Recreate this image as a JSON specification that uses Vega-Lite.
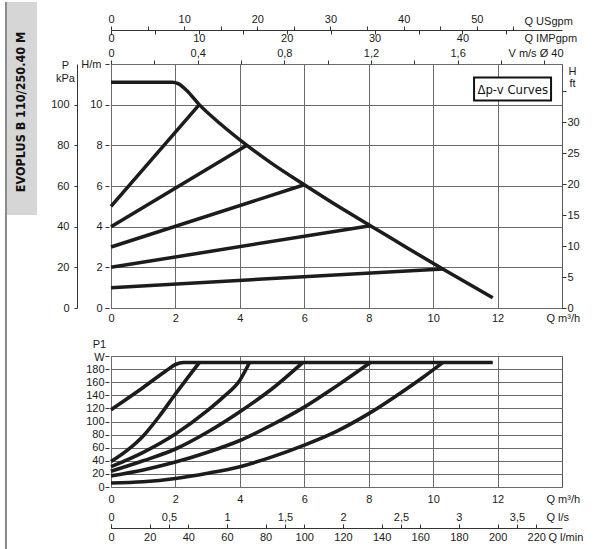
{
  "$schema": "https://vega.github.io/schema/vega-lite/v6.json",
  "padding": {"left": 4, "top": 0, "right": 0, "bottom": 0},
  "bounds": "flush",
  "spacing": 48,
  "config": {
    "axis": {
      "labelFont": "Liberation Sans", "labelFontSize": 11, "labelColor": "#1a1a1a",
      "titleFont": "Liberation Sans", "titleFontSize": 11, "titleFontWeight": "normal", "titleColor": "#1a1a1a",
      "tickColor": "#333", "domainColor": "#333", "gridColor": "#6a6a6a", "gridWidth": 1,
      "labelFlush": false, "labelOverlap": false, "labelBound": false, "tickSize": 4, "titlePadding": 0
    },
    "view": {"stroke": "#555", "strokeWidth": 1}
  },
  "datasets": {
    "head": [
      {"curve": "max", "q": 0, "h": 11.1}, {"curve": "max", "q": 1.9, "h": 11.1}, {"curve": "max", "q": 2.1, "h": 11.02},
      {"curve": "max", "q": 2.35, "h": 10.7}, {"curve": "max", "q": 2.74, "h": 10.0}, {"curve": "max", "q": 3.4, "h": 9.05},
      {"curve": "max", "q": 4.22, "h": 8.0}, {"curve": "max", "q": 5.0, "h": 7.1}, {"curve": "max", "q": 6.0, "h": 6.06},
      {"curve": "max", "q": 7.0, "h": 5.05}, {"curve": "max", "q": 8.05, "h": 4.05}, {"curve": "max", "q": 9.2, "h": 2.95},
      {"curve": "max", "q": 10.3, "h": 1.92}, {"curve": "max", "q": 11.85, "h": 0.5},
      {"curve": "d1", "q": 0, "h": 5.0}, {"curve": "d1", "q": 2.74, "h": 10.0},
      {"curve": "d2", "q": 0, "h": 4.0}, {"curve": "d2", "q": 4.22, "h": 8.0},
      {"curve": "d3", "q": 0, "h": 3.0}, {"curve": "d3", "q": 6.0, "h": 6.06},
      {"curve": "d4", "q": 0, "h": 2.0}, {"curve": "d4", "q": 8.05, "h": 4.05},
      {"curve": "d5", "q": 0, "h": 1.0}, {"curve": "d5", "q": 10.3, "h": 1.92}
    ],
    "power": [
      {"curve": "max", "q": 0, "w": 118}, {"curve": "max", "q": 1.0, "w": 152}, {"curve": "max", "q": 1.7, "w": 177},
      {"curve": "max", "q": 2.0, "w": 187}, {"curve": "max", "q": 2.25, "w": 190}, {"curve": "max", "q": 11.85, "w": 190},
      {"curve": "a", "q": 0, "w": 39}, {"curve": "a", "q": 0.5, "w": 56}, {"curve": "a", "q": 1.0, "w": 78},
      {"curve": "a", "q": 1.5, "w": 108}, {"curve": "a", "q": 2.0, "w": 142}, {"curve": "a", "q": 2.4, "w": 168},
      {"curve": "a", "q": 2.74, "w": 190},
      {"curve": "b", "q": 0, "w": 31}, {"curve": "b", "q": 1, "w": 53}, {"curve": "b", "q": 2, "w": 81},
      {"curve": "b", "q": 3, "w": 117}, {"curve": "b", "q": 3.5, "w": 138}, {"curve": "b", "q": 4, "w": 163},
      {"curve": "b", "q": 4.3, "w": 190},
      {"curve": "c", "q": 0, "w": 24}, {"curve": "c", "q": 1, "w": 40}, {"curve": "c", "q": 2, "w": 58},
      {"curve": "c", "q": 3, "w": 84}, {"curve": "c", "q": 4, "w": 115}, {"curve": "c", "q": 5, "w": 150},
      {"curve": "c", "q": 5.95, "w": 190},
      {"curve": "d", "q": 0, "w": 17}, {"curve": "d", "q": 1, "w": 26}, {"curve": "d", "q": 2, "w": 38},
      {"curve": "d", "q": 3, "w": 53}, {"curve": "d", "q": 4, "w": 71}, {"curve": "d", "q": 5, "w": 95},
      {"curve": "d", "q": 6, "w": 122}, {"curve": "d", "q": 7, "w": 154}, {"curve": "d", "q": 8.05, "w": 190},
      {"curve": "e", "q": 0, "w": 6}, {"curve": "e", "q": 1, "w": 8}, {"curve": "e", "q": 2, "w": 13},
      {"curve": "e", "q": 3, "w": 21}, {"curve": "e", "q": 4, "w": 31}, {"curve": "e", "q": 5, "w": 46},
      {"curve": "e", "q": 6, "w": 64}, {"curve": "e", "q": 7, "w": 85}, {"curve": "e", "q": 8, "w": 112},
      {"curve": "e", "q": 9, "w": 144}, {"curve": "e", "q": 9.7, "w": 168}, {"curve": "e", "q": 10.3, "w": 190}
    ]
  },
  "vconcat": [
    {
      "width": 451,
      "height": 244,
      "resolve": {"axis": {"x": "independent", "y": "independent"}},
      "layer": [
        {
          "data": {"name": "head"},
          "mark": {"type": "line", "interpolate": "monotone", "strokeWidth": 3.5, "color": "#1c1c1c", "strokeJoin": "round"},
          "encoding": {
            "x": {"field": "q", "type": "quantitative", "scale": {"domain": [0, 14], "nice": false, "zero": false},
              "axis": {"values": [0, 2, 4, 6, 8, 10, 12], "grid": true, "domain": false, "ticks": false, "labelPadding": 4,
                "title": "Q m³/h", "titleX": 435, "titleY": 4, "titleAlign": "left", "titleBaseline": "top"}},
            "y": {"field": "h", "type": "quantitative", "scale": {"domain": [0, 12], "nice": false},
              "axis": {"values": [0, 2, 4, 6, 8, 10, 12], "labelExpr": "datum.value == 12 ? '' : datum.label", "grid": true, "domain": false,
                "offset": 2, "tickSize": 4, "labelPadding": 3,
                "title": "H/m", "titleAngle": 0, "titleAlign": "right", "titleX": -8, "titleY": 0, "titleBaseline": "middle"}},
            "detail": {"field": "curve"}
          }
        },
        {
          "data": {"values": [{"q0": -3.29, "q1": -2.297, "h0": 15.05, "h1": 4.57}]},
          "mark": {"type": "rect", "color": "#d6d6d6"},
          "encoding": {
            "x": {"field": "q0", "type": "quantitative", "axis": null},
            "x2": {"field": "q1"},
            "y": {"field": "h0", "type": "quantitative", "axis": null},
            "y2": {"field": "h1"}
          }
        },
        {
          "data": {"values": [{"q0": -3.26, "h0": 15.05, "h1": -11.95}]},
          "mark": {"type": "rule", "color": "#8a8a8a", "strokeWidth": 2},
          "encoding": {
            "x": {"field": "q0", "type": "quantitative", "axis": null},
            "y": {"field": "h0", "type": "quantitative", "axis": null},
            "y2": {"field": "h1"}
          }
        },
        {
          "data": {"values": [{"q": -2.79, "h": 9.64, "label": "EVOPLUS B 110/250.40 M"}]},
          "mark": {"type": "text", "angle": 270, "font": "DejaVu Sans Condensed, DejaVu Sans, sans-serif", "fontSize": 12.5, "fontWeight": "bold", "color": "#111", "align": "center", "baseline": "middle"},
          "encoding": {
            "x": {"field": "q", "type": "quantitative", "axis": null},
            "y": {"field": "h", "type": "quantitative", "axis": null},
            "text": {"field": "label"}
          }
        },
        {
          "data": {"values": [{"q0": 11.27, "q1": 13.66, "h0": 10.2, "h1": 11.33}]},
          "mark": {"type": "rect", "fill": "white", "stroke": "#111", "strokeWidth": 2},
          "encoding": {
            "x": {"field": "q0", "type": "quantitative", "axis": null},
            "x2": {"field": "q1"},
            "y": {"field": "h0", "type": "quantitative", "axis": null},
            "y2": {"field": "h1"}
          }
        },
        {
          "data": {"values": [{"q": 12.47, "h": 10.74, "label": "Δp-v Curves"}]},
          "mark": {"type": "text", "font": "DejaVu Sans Condensed, DejaVu Sans, sans-serif", "fontSize": 13, "color": "#111", "align": "center", "baseline": "middle"},
          "encoding": {
            "x": {"field": "q", "type": "quantitative", "axis": null},
            "y": {"field": "h", "type": "quantitative", "axis": null},
            "text": {"field": "label"}
          }
        },
        {
          "data": {"values": [{"q": 0, "h": 0}]},
          "mark": {"type": "point", "opacity": 0},
          "encoding": {
            "x": {"field": "q", "type": "quantitative", "axis": null},
            "y": {"field": "h", "type": "quantitative",
              "axis": {"orient": "left", "values": [0, 2, 4, 6, 8, 10], "labelExpr": "format(round(datum.value * 10), 'd')",
                "offset": 34, "domain": true, "tickSize": 3, "labelPadding": 5, "grid": false,
                "title": ["P", "kPa"], "titleAngle": 0, "titleAlign": "center", "titleX": -12, "titleY": -5, "titleBaseline": "top", "titleLineHeight": 13}}
          }
        },
        {
          "data": {"values": [{"q": 0, "h": 0}]},
          "mark": {"type": "point", "opacity": 0},
          "encoding": {
            "x": {"field": "q", "type": "quantitative", "axis": null},
            "y": {"field": "h", "type": "quantitative",
              "axis": {"orient": "right", "values": [0, 1.524, 3.048, 4.572, 6.096, 7.62, 9.144, 10.668],
                "labelExpr": "round(datum.value / 0.3048) == 35 ? '' : format(round(datum.value / 0.3048), 'd')",
                "domain": false, "tickSize": 4, "labelPadding": 1, "grid": false,
                "title": ["H", "ft"], "titleAngle": 0, "titleAlign": "center", "titleX": 10, "titleY": 1, "titleBaseline": "top", "titleLineHeight": 12}}
          }
        },
        {
          "data": {"values": [{"q": 0, "h": 0}]},
          "mark": {"type": "point", "opacity": 0},
          "encoding": {
            "y": {"field": "h", "type": "quantitative", "axis": null},
            "x": {"field": "q", "type": "quantitative",
              "axis": {"orient": "top", "offset": 34,
                "values": [0, 1.1356, 2.2712, 3.4068, 4.5424, 5.678, 6.8136, 7.9492, 9.0848, 10.2204, 11.356, 12.4916],
                "labelExpr": "round(datum.value / 0.22712) % 10 == 0 ? format(round(datum.value / 0.22712), 'd') : ''",
                "domain": true, "tickSize": 4, "labelPadding": 2, "grid": false,
                "title": "Q USgpm", "titleX": 413, "titleY": -6, "titleAlign": "left", "titleBaseline": "alphabetic"}}
          }
        },
        {
          "data": {"values": [{"q": 0, "h": 0}]},
          "mark": {"type": "point", "opacity": 0},
          "encoding": {
            "y": {"field": "h", "type": "quantitative", "axis": null},
            "x": {"field": "q", "type": "quantitative",
              "axis": {"orient": "top", "offset": 34,
                "values": [0, 1.3638, 2.7277, 4.0915, 5.4554, 6.8192, 8.1831, 9.5469, 10.9108, 12.2746],
                "labelExpr": "round(datum.value / 0.27277) % 10 == 0 ? format(round(datum.value / 0.27277), 'd') : ''",
                "domain": false, "tickSize": -4, "labelPadding": 2, "labelBaseline": "top", "grid": false,
                "title": "Q IMPgpm", "titleX": 413, "titleY": 2, "titleAlign": "left", "titleBaseline": "top"}}
          }
        },
        {
          "data": {"values": [{"q": 0, "h": 0}]},
          "mark": {"type": "point", "opacity": 0},
          "encoding": {
            "y": {"field": "h", "type": "quantitative", "axis": null},
            "x": {"field": "q", "type": "quantitative",
              "axis": {"orient": "top", "offset": 0,
                "values": [0, 1.345, 2.69, 4.035, 5.38, 6.725, 8.07, 9.415, 10.76, 12.105, 13.45],
                "labelExpr": "round(datum.value / 0.6725) % 4 == 0 && datum.value < 11 ? replace(format(round(datum.value / 0.6725) / 10, '.1~f'), '.', ',') : ''",
                "domain": false, "tickSize": 4, "labelPadding": 2, "grid": false,
                "title": "V m/s Ø 40", "titleX": 397, "titleY": -8, "titleAlign": "left", "titleBaseline": "alphabetic"}}
          }
        }
      ]
    },
    {
      "width": 451,
      "height": 131,
      "resolve": {"axis": {"x": "independent", "y": "independent"}},
      "layer": [
        {
          "data": {"name": "power"},
          "mark": {"type": "line", "interpolate": "monotone", "strokeWidth": 3.6, "color": "#1c1c1c", "strokeJoin": "round"},
          "encoding": {
            "x": {"field": "q", "type": "quantitative", "scale": {"domain": [0, 14], "nice": false, "zero": false},
              "axis": {"values": [0, 2, 4, 6, 8, 10, 12], "grid": true, "domain": false, "ticks": false, "labelPadding": 6,
                "title": "Q m³/h", "titleX": 435, "titleY": 6, "titleAlign": "left", "titleBaseline": "top"}},
            "y": {"field": "w", "type": "quantitative", "scale": {"domain": [0, 200], "nice": false},
              "axis": {"values": [0, 20, 40, 60, 80, 100, 120, 140, 160, 180, 200], "labelExpr": "datum.value == 200 ? '' : datum.label",
                "grid": true, "domain": false, "offset": 2, "tickSize": 4, "labelPadding": 1,
                "title": ["P1", "W"], "titleAngle": 0, "titleAlign": "center", "titleX": -10, "titleY": -9, "titleBaseline": "alphabetic", "titleLineHeight": 13}},
            "detail": {"field": "curve"}
          }
        },
        {
          "data": {"values": [{"q": 0, "w": 0}]},
          "mark": {"type": "point", "opacity": 0},
          "encoding": {
            "y": {"field": "w", "type": "quantitative", "axis": null},
            "x": {"field": "q", "type": "quantitative",
              "axis": {"orient": "bottom", "offset": 41, "values": [0, 1.8, 3.6, 5.4, 7.2, 9.0, 10.8, 12.6],
                "labelExpr": "replace(format(datum.value / 3.6, '.2~f'), '.', ',')",
                "domain": false, "tickSize": -4, "labelPadding": -4, "labelBaseline": "alphabetic", "grid": false,
                "title": "Q l/s", "titleX": 435, "titleY": -8, "titleAlign": "left", "titleBaseline": "alphabetic"}}
          }
        },
        {
          "data": {"values": [{"q": 0, "w": 0}]},
          "mark": {"type": "point", "opacity": 0},
          "encoding": {
            "y": {"field": "w", "type": "quantitative", "axis": null},
            "x": {"field": "q", "type": "quantitative",
              "axis": {"orient": "bottom", "offset": 41, "values": [0, 1.2, 2.4, 3.6, 4.8, 6.0, 7.2, 8.4, 9.6, 10.8, 12.0, 13.2],
                "labelExpr": "format(round(datum.value / 0.06), 'd')",
                "domain": true, "tickSize": -4, "labelPadding": 7, "labelBaseline": "top", "grid": false,
                "title": "Q l/min", "titleX": 437, "titleY": 3, "titleAlign": "left", "titleBaseline": "top"}}
          }
        }
      ]
    }
  ]
}
